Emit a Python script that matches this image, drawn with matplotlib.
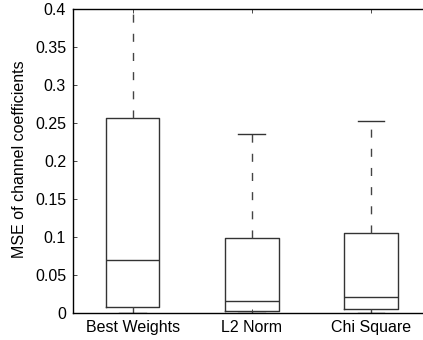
import matplotlib
matplotlib.use('Agg')
import matplotlib.pyplot as plt

labels = ['Best Weights', 'L2 Norm', 'Chi Square']
q1 = [0.008, 0.0026, 0.0057]
med = [0.070, 0.016, 0.021]
q3 = [0.256, 0.099, 0.105]
whislo = [0.0, 0.0, 0.0]
whishi = [0.45, 0.2355, 0.253]

plt.rcParams['font.family'] = ['Liberation Sans', 'DejaVu Sans']
plt.rcParams['font.size'] = 11.5

fig = plt.figure(figsize=(4.23, 3.4), dpi=100)
ax = fig.add_axes([73 / 423, 27 / 340, (430.5 - 73) / 423, (313 - 9) / 340])

stats = []
for i in range(len(labels)):
    stats.append({'label': labels[i], 'q1': q1[i], 'med': med[i], 'q3': q3[i],
                  'whislo': whislo[i], 'whishi': whishi[i], 'fliers': []})

ax.bxp(stats, positions=[1, 2, 3], widths=0.45, showfliers=False,
       boxprops=dict(color='#333333', linewidth=1.0),
       medianprops=dict(color='#333333', linewidth=1.0),
       whiskerprops=dict(color='#444444', linewidth=1.0, linestyle=(0, (5.8, 8.0))),
       capprops=dict(color='#333333', linewidth=1.0),
       capwidths=0.225)

ax.set_xlim(0.5, 3.5)
ax.set_ylim(0, 0.4)
ax.set_yticks([0, 0.05, 0.1, 0.15, 0.2, 0.25, 0.3, 0.35, 0.4])
ax.set_yticklabels(['0', '0.05', '0.1', '0.15', '0.2', '0.25', '0.3', '0.35', '0.4'])
ax.set_xticks([1, 2, 3])
ax.set_xticklabels(labels)
ax.tick_params(direction='in', top=True, right=True, length=3, width=0.5, pad=5)
ax.set_ylabel('MSE of channel coefficients')
ax.yaxis.set_label_coords(-46 / (430.5 - 73), 0.505)
for s in ax.spines.values():
    s.set_linewidth(1.0)

fig.savefig('out.png', dpi=100)
